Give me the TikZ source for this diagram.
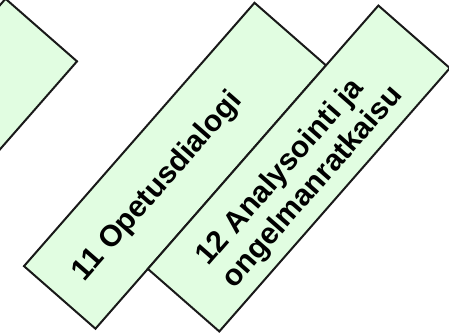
\documentclass[tikz,border=0pt]{standalone}
\usepackage{fontspec}
\setmainfont{Liberation Sans}
\usetikzlibrary{positioning}
\definecolor{vaalea}{RGB}{225,253,225}
\tikzset{
  laatikko/.style={draw=black!90, line width=2pt, fill=vaalea, rectangle,
    minimum width=350pt, minimum height=95pt, inner sep=0pt},
  teksti/.style={font=\fontsize{30}{34}\selectfont\bfseries, inner sep=0pt}
}
\begin{document}
\begin{tikzpicture}[x=1pt,y=1pt]
  \useasboundingbox (0,0) rectangle (449,333);
  \clip (0,0) rectangle (449,333);
  \begin{scope}[shift={(175,167.25)}, rotate=48.8, transform shape]
    \node[laatikko] (K10) at (-161,190) {};
    \node[laatikko] (K11) at (0,0) {};
    \node[laatikko] (K12) at (79.5,-95) {};
    \node[teksti] (T11) at (-27,-1) {11 Opetusdialogi};
    \node[teksti, align=left, anchor=west] (T12) at (-54,-101) {12 Analysointi ja\\ongelmanratkaisu};
  \end{scope}
\end{tikzpicture}
\end{document}
